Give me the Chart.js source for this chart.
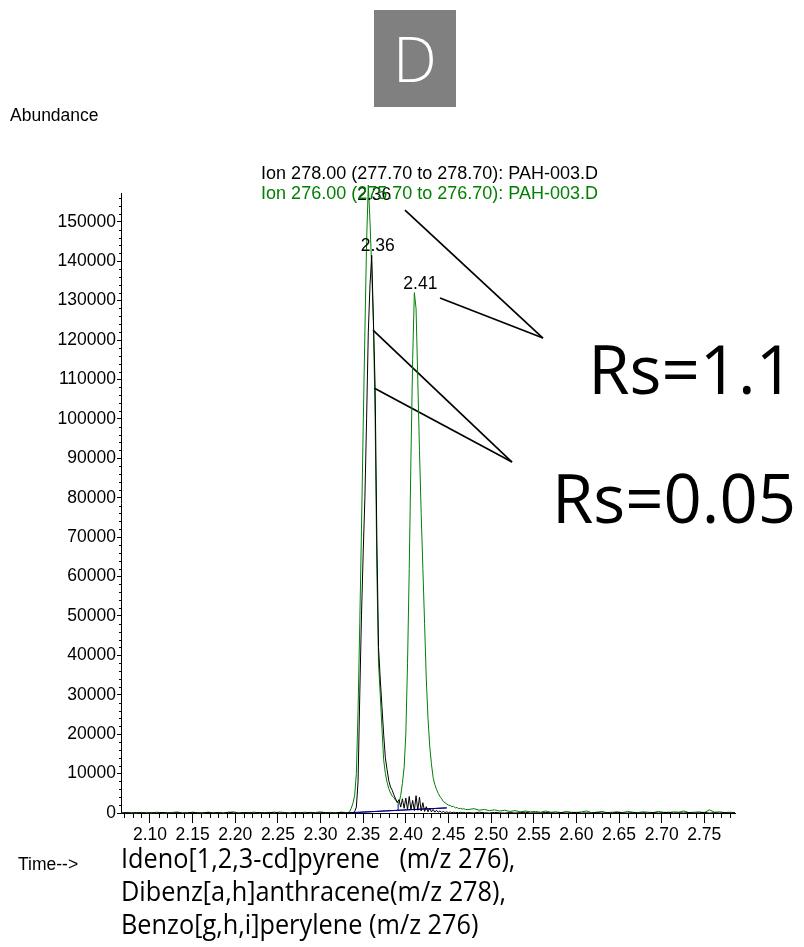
<!DOCTYPE html>
<html>
<head>
<meta charset="utf-8">
<script src="https://cdn.jsdelivr.net/npm/chart.js@4.4.1/dist/chart.umd.min.js"></script>
<style>
  html, body { margin: 0; padding: 0; background: #fff; overflow: hidden; }
  #wrap { position: relative; width: 804px; height: 947px; }
  #wrap canvas { position: absolute; left: 0; top: 0; }
  .t { position: absolute; white-space: pre; font-family: "Liberation Sans", Arial, sans-serif;
       font-size: 17.5px; line-height: 1; color: #000; }
  .big { position: absolute; white-space: pre; font-family: "Open Sans", "Noto Sans", sans-serif;
         line-height: 1; color: #000; }
  #tag { position: absolute; left: 374px; top: 10px; width: 82px; height: 97px; background: #808080; }
  #tag span { position: absolute; left: 0; width: 82px; top: 17px; text-align: center; color: #fff;
              font-family: "Open Sans", "Noto Sans", sans-serif; font-weight: 300; font-size: 62px; line-height: 1; }
</style>
</head>
<body>
<div id="wrap">
  <canvas id="chart" width="804" height="947"></canvas>
  <div id="tag"><span>D</span></div>
  <div class="t" style="left:10px; top:107px;">Abundance</div>
  <div class="t" style="right:206px; top:164px; font-size:18px;">Ion 278.00 (277.70 to 278.70): PAH-003.D</div>
  <div class="t" style="right:206px; top:184px; font-size:18px; color:#008000;">Ion 276.00 (275.70 to 276.70): PAH-003.D</div>
  <div class="t" style="left:18px; top:856px;">Time--&gt;</div>
  <div class="big" style="left:121px; top:844px; font-size:27.5px; transform-origin:left top; transform:scaleX(0.92);">Ideno[1,2,3-cd]pyrene   (m/z 276),</div>
  <div class="big" style="left:121px; top:877px; font-size:27.5px; transform-origin:left top; transform:scaleX(0.92);">Dibenz[a,h]anthracene(m/z 278),</div>
  <div class="big" style="left:121px; top:910px; font-size:27.5px; transform-origin:left top; transform:scaleX(0.92);">Benzo[g,h,i]perylene (m/z 276)</div>
  <div class="big" style="right:10px; top:335px; font-size:67px;">Rs=1.1</div>
  <div class="big" style="right:8px; top:464px; font-size:67px;">Rs=0.05</div>
</div>
<script>
// Scan timing (min): a coarse stretch before the peaks, a fine stretch over them, a coarse tail.
const earlyStart = 2.066, earlyStep = 0.006;
const peakStart = 2.332, peakStep = 0.002;
const lateStart = 2.474, lateStep = 0.006;

// Ion 276 abundance (green trace)
const ion276Early = [0,120,40,0,160, 80,0,200,60,0, 140,260,40,0,180, 100,0,220,60,120,
  0,160,300,20,100, 60,220,0,120,160, 0,260,100,0,160, 60,200,0,120,300, 60,160,0,220,120];
const ion276Peak = [100,300,1200,2500,4500,10000,26000,48000,72000,98000,
  122000,145000,159300,150000,138000,124000,100000,62000,38000,30000,
  21500,13500,10000,7800,6200,5100,4300,3900,3200,2900,
  2450,4500,7500,11500,20000,38000,62000,90000,115000,132000,
  128000,110000,92000,76000,62000,48000,34000,24000,17000,12500,
  9000,7200,6000,5000,4200,3600,2900,2600,2300,2000,
  1900,1600,1700,1300,1400,1100,1200,1000,1100,900];
const ion276Late = [900,1100,700,900,600, 800,500,700,400,600, 300,500,300,400,200, 500,200,300,100,400,
  200,100,300,500,100, 200,400,100,200,300, 100,400,200,100,300, 200,100,400,200,100,
  300,200,500,100,200, 300,100,800,200,300, 100,200,100];

// Ion 278 abundance (black trace)
const ion278Early = [0,60,0,100,20, 0,80,0,140,40, 0,100,0,60,160, 0,40,120,0,80,
  0,180,40,0,100, 60,0,140,0,80, 200,0,60,0,120, 40,0,160,0,80, 100,0,60,140,0];
const ion278Peak = [100,50,150,100,300,1500,8000,30000,50000,66000,
  80000,100000,122000,134000,141500,125000,108000,70000,42000,34000,
  27000,20000,14000,11000,8200,6600,5800,4600,3600,2600,
  3400,1500,3600,1200,3800,900,4200,800,3200,600,
  4400,700,4000,500,2600,400,1600,300,1200,300,
  900,200,700,200,500,150,400,100,300,100,
  250,80,200,100,150,50,200,100,150,50];
const ion278Late = [100,0,200,60,0, 150,40,0,120,0, 80,200,0,60,0, 140,40,0,100,0,
  60,180,0,40,0, 120,0,80,0,160, 40,0,100,0,60, 0,140,0,80,200, 0,60,0,120,0,
  40,160,0,80,0, 100,0,60];

// Integration baselines: [start time, start level, end time, end level]
const baselineStartTime = [2.329, 2.391, 2.329, 2.391];
const baselineStartLevel = [0, 700, 0, 700];
const baselineEndTime = [2.391, 2.448, 2.448, 2.391];
const baselineEndLevel = [700, 1300, 1300, 2450];

// Call-out lines toward the resolution notes
const calloutFromTime = [2.3990, 2.4401, 2.3615, 2.3627];
const calloutFromLevel = [152970, 130640, 122530, 107810];
const calloutToTime = [2.5608, 2.5608, 2.5245, 2.5245];
const calloutToLevel = [120500, 120500, 89040, 89040];

// Peaks tagged with their retention time: [series, window start, window end]
const taggedPeaks = [['ion276', 2.345, 2.370], ['ion278', 2.350, 2.370], ['ion276', 2.400, 2.420]];

// Axis settings and tick labels
const timeMin = 2.066, timeMax = 2.786;
const abundanceMax = 157300;
const timeTicks = [2.10, 2.15, 2.20, 2.25, 2.30, 2.35, 2.40, 2.45, 2.50, 2.55, 2.60, 2.65, 2.70, 2.75];
const abundanceTicks = [0, 10000, 20000, 30000, 40000, 50000, 60000, 70000, 80000,
  90000, 100000, 110000, 120000, 130000, 140000, 150000];
const timeMinor = 0.01, abundanceMinor = 2000;

function trace(parts) {
  const pts = [];
  parts.forEach(([start, step, values]) => {
    values.forEach((v, i) => pts.push({ x: +(start + i * step).toFixed(4), y: v }));
  });
  return pts;
}

const ion276 = trace([[earlyStart, earlyStep, ion276Early], [peakStart, peakStep, ion276Peak], [lateStart, lateStep, ion276Late]]);
const ion278 = trace([[earlyStart, earlyStep, ion278Early], [peakStart, peakStep, ion278Peak], [lateStart, lateStep, ion278Late]]);
const seriesByName = { ion276, ion278 };

const FONT = '"Liberation Sans", Arial, sans-serif';
const lineBase = { pointRadius: 0, borderWidth: 1, fill: false, tension: 0, clip: false };

const datasets = [
  Object.assign({ label: 'Ion 278.00', data: ion278, borderColor: '#000000' }, lineBase),
  Object.assign({ label: 'Ion 276.00', data: ion276, borderColor: '#008000' }, lineBase)
];
baselineStartTime.forEach((t, i) => {
  datasets.push(Object.assign({}, lineBase, {
    label: 'baseline',
    data: [{ x: t, y: baselineStartLevel[i] }, { x: baselineEndTime[i], y: baselineEndLevel[i] }],
    borderColor: '#00008b'
  }));
});
calloutFromTime.forEach((t, i) => {
  datasets.push(Object.assign({}, lineBase, {
    label: 'callout',
    data: [{ x: t, y: calloutFromLevel[i] }, { x: calloutToTime[i], y: calloutToLevel[i] }],
    borderColor: '#000000', borderWidth: 1.7
  }));
});

// Small unlabelled ticks between the numbered ones
const minorTicks = {
  id: 'minorTicks',
  afterDraw(chart) {
    const { ctx, chartArea, scales: { x, y } } = chart;
    const majorsX = timeTicks.map(t => Math.round(t * 100));
    ctx.save();
    ctx.strokeStyle = '#000';
    ctx.lineWidth = 1;
    ctx.beginPath();
    for (let k = Math.ceil(timeMin / timeMinor); k * timeMinor <= timeMax; k++) {
      if (majorsX.includes(k)) continue;
      const px = Math.round(x.getPixelForValue(k * timeMinor)) + 0.5;
      ctx.moveTo(px, chartArea.bottom);
      ctx.lineTo(px, chartArea.bottom + 5);
    }
    for (let v = abundanceMinor; v <= abundanceMax; v += abundanceMinor) {
      if (abundanceTicks.includes(v)) continue;
      const py = Math.round(y.getPixelForValue(v)) + 0.5;
      ctx.moveTo(chartArea.left - 2, py);
      ctx.lineTo(chartArea.left, py);
    }
    ctx.stroke();
    ctx.restore();
  }
};

// Retention time printed over each tagged peak apex
const peakTags = {
  id: 'peakTags',
  afterDatasetsDraw(chart) {
    const { ctx, chartArea, scales: { x, y } } = chart;
    ctx.save();
    ctx.font = '17.5px ' + FONT;
    ctx.fillStyle = '#000';
    ctx.textAlign = 'center';
    ctx.textBaseline = 'alphabetic';
    taggedPeaks.forEach(([name, lo, hi]) => {
      let best = null;
      seriesByName[name].forEach(p => {
        if (p.x >= lo && p.x <= hi && (!best || p.y > best.y)) best = p;
      });
      if (!best) return;
      const px = x.getPixelForValue(best.x) + 6;
      const py = Math.max(y.getPixelForValue(best.y) - 4, chartArea.top + 7);
      ctx.fillText(best.x.toFixed(2), px, py);
    });
    ctx.restore();
  }
};

new Chart(document.getElementById('chart'), {
  type: 'line',
  data: { datasets },
  options: {
    responsive: false,
    animation: false,
    devicePixelRatio: 1,
    layout: { padding: { top: 193, right: 69, left: 0, bottom: 0 } },
    plugins: { legend: { display: false }, tooltip: { enabled: false } },
    scales: {
      x: {
        type: 'linear', min: timeMin, max: timeMax,
        border: { color: '#000', width: 1 },
        grid: { drawOnChartArea: false, drawTicks: true, tickLength: 10, tickColor: '#000', tickWidth: 1 },
        ticks: {
          autoSkip: false, maxRotation: 0, minRotation: 0,
          color: '#000', padding: 2, font: { family: FONT, size: 17.5 },
          callback: v => v.toFixed(2)
        },
        afterBuildTicks: s => { s.ticks = timeTicks.map(v => ({ value: v })); },
        afterFit: s => { s.height = 134; }
      },
      y: {
        type: 'linear', min: 0, max: abundanceMax,
        border: { color: '#000', width: 1 },
        grid: { drawOnChartArea: false, drawTicks: true, tickLength: 4, tickColor: '#000', tickWidth: 1 },
        ticks: {
          autoSkip: false, color: '#000', padding: 1,
          font: { family: FONT, size: 17.5 },
          callback: v => String(v)
        },
        afterBuildTicks: s => { s.ticks = abundanceTicks.map(v => ({ value: v })); },
        afterFit: s => { s.width = 121; }
      }
    }
  },
  plugins: [minorTicks, peakTags]
});
</script>
</body>
</html>
